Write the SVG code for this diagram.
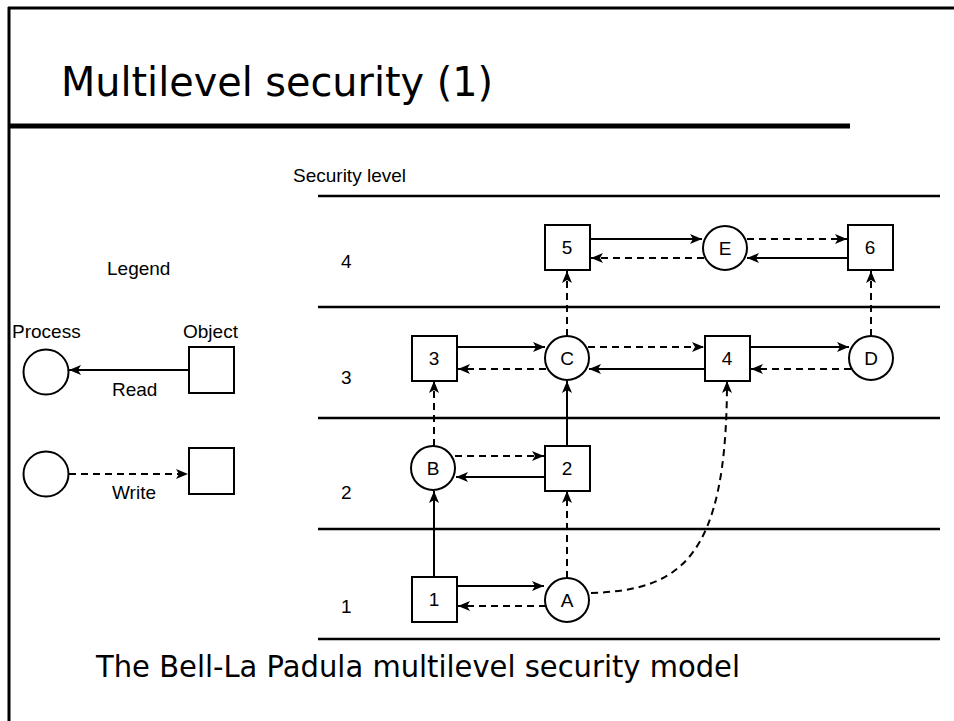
<svg xmlns="http://www.w3.org/2000/svg" width="954" height="721" viewBox="0 0 954 721">
<defs>
<marker id="ah" markerUnits="userSpaceOnUse" markerWidth="14" markerHeight="12" refX="12" refY="5" orient="auto">
<path d="M0,0 L12,5 L0,10 L3,5 z" fill="#000"/>
</marker>
<style>
.nd{fill:#fff;stroke:#000;stroke-width:2}
.lb{font-family:"Liberation Sans",Arial,sans-serif;font-size:19px;fill:#000}
.ct{text-anchor:middle}
.sl{stroke:#000;stroke-width:2;fill:none;marker-end:url(#ah)}
.dl{stroke:#000;stroke-width:2;fill:none;stroke-dasharray:7,5;marker-end:url(#ah)}
.lv{stroke:#000;stroke-width:2.5}
.big{font-family:"DejaVu Sans",sans-serif;fill:#000}
</style>
</defs>
<rect width="954" height="721" fill="#fff"/>
<g id="frame">
<line x1="8" y1="8" x2="954" y2="8" stroke="#000" stroke-width="3"/>
<line x1="9" y1="7" x2="9" y2="721" stroke="#000" stroke-width="3"/>
<line x1="8" y1="126" x2="850" y2="126" stroke="#000" stroke-width="5"/>
</g>
<text class="big" x="61" y="96" font-size="40" textLength="432" lengthAdjust="spacingAndGlyphs">Multilevel security (1)</text>
<text class="big" x="96" y="677" font-size="30" textLength="644" lengthAdjust="spacingAndGlyphs">The Bell-La Padula multilevel security model</text>
<g id="levels">
<line class="lv" x1="318" y1="196" x2="940" y2="196"/>
<line class="lv" x1="318" y1="307" x2="940" y2="307"/>
<line class="lv" x1="318" y1="418" x2="940" y2="418"/>
<line class="lv" x1="318" y1="529" x2="940" y2="529"/>
<line class="lv" x1="318" y1="639" x2="940" y2="639"/>
<text class="lb" x="293" y="182">Security level</text>
<text class="lb" x="341" y="268">4</text>
<text class="lb" x="341" y="384">3</text>
<text class="lb" x="341" y="499">2</text>
<text class="lb" x="341" y="613">1</text>
</g>
<g id="legend">
<text class="lb" x="107" y="275">Legend</text>
<text class="lb" x="12" y="338">Process</text>
<text class="lb" x="183" y="338">Object</text>
<circle class="nd" cx="46" cy="372" r="22.5"/>
<rect class="nd" x="189" y="347" width="45" height="46"/>
<line class="sl" x1="189" y1="370" x2="69" y2="370"/>
<text class="lb" x="112" y="396">Read</text>
<circle class="nd" cx="46" cy="474" r="22.5"/>
<rect class="nd" x="189" y="448" width="45" height="46"/>
<line class="dl" x1="69" y1="474" x2="188" y2="474"/>
<text class="lb" x="112" y="499">Write</text>
</g>
<g id="connectors">
<line class="sl" x1="590" y1="239" x2="702" y2="239"/>
<line class="dl" x1="704" y1="258" x2="591" y2="258"/>
<line class="dl" x1="747" y1="239" x2="847" y2="239"/>
<line class="sl" x1="848" y1="258" x2="747" y2="258"/>
<line class="dl" x1="567" y1="336" x2="567" y2="271"/>
<line class="dl" x1="871" y1="336" x2="871" y2="271"/>
<line class="sl" x1="457" y1="347" x2="545" y2="347"/>
<line class="dl" x1="546" y1="369" x2="458" y2="369"/>
<line class="dl" x1="588" y1="347" x2="704" y2="347"/>
<line class="sl" x1="705" y1="369" x2="589" y2="369"/>
<line class="sl" x1="750" y1="347" x2="849" y2="347"/>
<line class="dl" x1="851" y1="369" x2="751" y2="369"/>
<line class="dl" x1="434" y1="446" x2="434" y2="381"/>
<line class="sl" x1="567" y1="445" x2="567" y2="381"/>
<line class="dl" x1="455" y1="456" x2="544" y2="456"/>
<line class="sl" x1="545" y1="477" x2="456" y2="477"/>
<line class="sl" x1="434" y1="577" x2="434" y2="491"/>
<line class="dl" x1="567" y1="578" x2="567" y2="491"/>
<line class="sl" x1="457" y1="586" x2="544" y2="586"/>
<line class="dl" x1="546" y1="606" x2="458" y2="606"/>
<path class="dl" d="M591 593 C680 590 727 560 727 381"/>
</g>
<g id="n5"><rect class="nd" x="545" y="225" width="45" height="45"/><text class="lb ct" x="567" y="254">5</text></g>
<g id="nE"><circle class="nd" cx="725" cy="248" r="22"/><text class="lb ct" x="725" y="255">E</text></g>
<g id="n6"><rect class="nd" x="848" y="225" width="45" height="45"/><text class="lb ct" x="870" y="254">6</text></g>
<g id="n3"><rect class="nd" x="412" y="336" width="45" height="45"/><text class="lb ct" x="434" y="365">3</text></g>
<g id="nC"><circle class="nd" cx="567" cy="358" r="22"/><text class="lb ct" x="567" y="365">C</text></g>
<g id="n4"><rect class="nd" x="705" y="336" width="45" height="45"/><text class="lb ct" x="727" y="365">4</text></g>
<g id="nD"><circle class="nd" cx="871" cy="358" r="22"/><text class="lb ct" x="871" y="365">D</text></g>
<g id="nB"><circle class="nd" cx="433" cy="468" r="22"/><text class="lb ct" x="433" y="475">B</text></g>
<g id="n2"><rect class="nd" x="545" y="446" width="45" height="45"/><text class="lb ct" x="567" y="475">2</text></g>
<g id="n1"><rect class="nd" x="412" y="577" width="45" height="45"/><text class="lb ct" x="434" y="606">1</text></g>
<g id="nA"><circle class="nd" cx="567" cy="600" r="22"/><text class="lb ct" x="567" y="607">A</text></g>
</svg>
